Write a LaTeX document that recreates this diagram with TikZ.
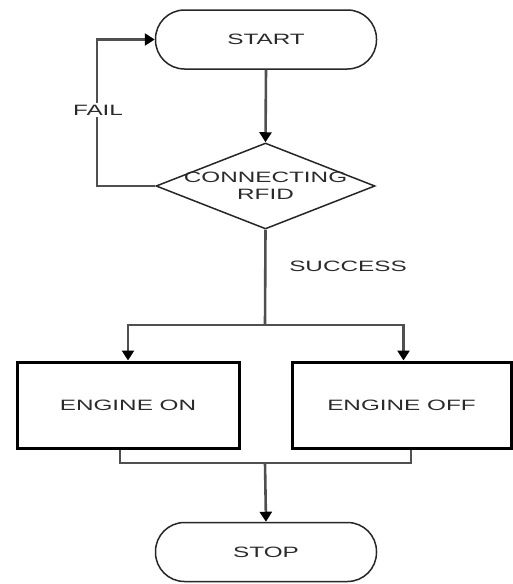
\documentclass[tikz,border=0pt]{standalone}
\usepackage{fontspec}
\setmainfont[FakeStretch=1.62]{Liberation Sans}
\usetikzlibrary{shapes.geometric,arrows.meta}
\definecolor{txt}{HTML}{2a2a2a}
\definecolor{ln}{HTML}{505050}
\tikzset{
  every node/.style={font=\fontsize{15}{16.5}\selectfont, text=txt},
  terminal/.style={draw=black!85, line width=1.5pt, rectangle, rounded corners=29pt, minimum width=221pt, minimum height=59pt, inner sep=0pt},
  procbox/.style={draw=black, line width=3pt, rectangle, minimum width=220pt, minimum height=86pt, inner sep=0pt},
  decision/.style={draw=black!85, line width=1.5pt, diamond, minimum width=219pt, minimum height=86pt, inner sep=0pt},
  conn/.style={draw=ln, line width=2.6pt},
  arr/.style={conn, -{Triangle[length=10pt,width=12pt,fill=black,color=black]}},
  lbl/.style={fill=white, inner sep=2pt}
}
\begin{document}
\begin{tikzpicture}[x=1pt,y=-1pt]
\useasboundingbox (0,0) rectangle (513,584);
\node[terminal] (start) at (266,39.5) {START};
\node[decision, label={[align=center, text=txt, font=\fontsize{15}{16.5}\selectfont]center:CONNECTING\\RFID}] (d) at (265.5,186) {};
\node[procbox, minimum width=222pt] (on) at (128,405) {ENGINE ON};
\node[procbox, minimum width=219pt] (off) at (401.5,405) {ENGINE OFF};
\node[terminal] (stop) at (266,552) {STOP};
\coordinate (failc) at (97,186);
\coordinate (split) at (265,325);
\coordinate (merge) at (265,463);
\draw[arr] (start.south) -- (d.north);
\draw[arr] (d.west) -- (failc) |- (start.west);
\node[lbl] (fail) at (98,110) {FAIL};
\draw[conn] (d.south) -- (split);
\draw[arr] (split) -| (on.north);
\draw[arr] (split) -| ([xshift=2pt]off.north);
\node (succ) at (348,266) {SUCCESS};
\draw[conn] ([xshift=-8pt]on.south) |- (merge) -| ([xshift=9.5pt]off.south);
\draw[arr] (merge) -- (stop.north);
\end{tikzpicture}
\end{document}
